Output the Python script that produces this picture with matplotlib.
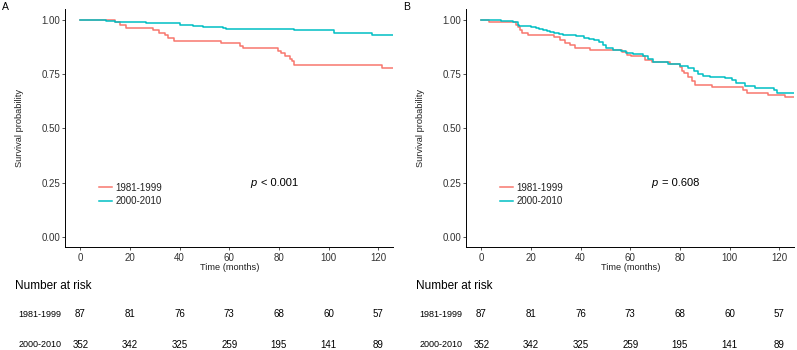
import matplotlib
matplotlib.use("Agg")
import matplotlib.pyplot as plt
from matplotlib.transforms import blended_transform_factory
from matplotlib.ticker import FormatStrFormatter

plt.rcParams['font.family'] = ['Liberation Sans', 'DejaVu Sans']

RED = '#F8766D'
TEAL = '#00BFC4'
groups = ['1981-1999', '2000-2010']

# Panel A: Kaplan-Meier steps (months, survival)
a_red_t = [0, 13.8, 15.8, 18.3, 29.3, 31.5, 34.0, 35.3, 37.6, 56.5, 64.3, 65.6,
           79.8, 80.7, 82.4, 84.4, 85.4, 86.1, 121.6, 126]
a_red_s = [1.0, 0.992, 0.98, 0.966, 0.955, 0.943, 0.931, 0.918, 0.906, 0.895, 0.883, 0.871,
           0.858, 0.847, 0.835, 0.823, 0.81, 0.792, 0.78, 0.78]
a_teal_t = [0, 10.5, 13.8, 26.6, 40.0, 45.4, 49.4, 57.5, 58.8, 86.2, 102.0, 117.4, 126]
a_teal_s = [1.0, 0.998, 0.994, 0.986, 0.98, 0.975, 0.97, 0.964, 0.96, 0.955, 0.941, 0.931, 0.931]

# Panel B
b_red_t = [0, 3.0, 14.0, 14.7, 15.6, 16.4, 18.7, 29.4, 31.7, 33.9, 35.9, 37.8, 43.9,
           56.6, 58.6, 60.5, 66.0, 68.7, 76.0, 80.1, 80.8, 81.8, 83.4, 85.0, 86.1,
           93.1, 105.6, 107.2, 115.7, 122.4, 126]
b_red_s = [1.0, 0.991, 0.978, 0.967, 0.956, 0.943, 0.932, 0.921, 0.909, 0.896, 0.886, 0.873, 0.863,
           0.855, 0.841, 0.836, 0.818, 0.806, 0.798, 0.783, 0.767, 0.755, 0.737, 0.721, 0.702,
           0.69, 0.678, 0.665, 0.655, 0.644, 0.644]
b_teal_t = [0, 8.0, 12.7, 14.7, 15.3, 20.0, 22.0, 23.1, 24.7, 26.4, 27.7, 29.4, 31.4, 33.0,
            38.2, 41.5, 43.5, 45.5, 47.6, 49.2, 50.3, 53.0, 56.3, 58.3, 61.0, 65.3, 67.3,
            69.3, 75.4, 80.1, 83.4, 85.5, 87.5, 89.5, 92.2, 98.2, 100.9, 102.5, 106.3,
            110.3, 118.1, 119.0, 126]
b_teal_s = [1.0, 0.997, 0.991, 0.98, 0.972, 0.969, 0.966, 0.961, 0.957, 0.952, 0.946, 0.941, 0.937, 0.931,
            0.926, 0.92, 0.914, 0.908, 0.899, 0.888, 0.87, 0.865, 0.857, 0.849, 0.845, 0.834, 0.823,
            0.809, 0.798, 0.787, 0.78, 0.764, 0.752, 0.744, 0.739, 0.733, 0.726, 0.71, 0.698,
            0.687, 0.678, 0.665, 0.665]

p_texts = ['< 0.001', '= 0.608']
panel_labels = ['A', 'B']

risk_times = [0, 20, 40, 60, 80, 100, 120]
risk_early = [87, 81, 76, 73, 68, 60, 57]
risk_late = [352, 342, 325, 259, 195, 141, 89]

fig = plt.figure(figsize=(7.97, 3.5), dpi=100)

panels = [
    (0.0821, (a_red_t, a_red_s), (a_teal_t, a_teal_s)),
    (0.5852, (b_red_t, b_red_s), (b_teal_t, b_teal_s)),
]

for i, (left, red, teal) in enumerate(panels):
    ax = fig.add_axes([left, 0.2929, 0.4111, 0.68])
    ax.step(red[0], red[1], where='post', color=RED, lw=1.1, label=groups[0])
    ax.step(teal[0], teal[1], where='post', color=TEAL, lw=1.1, label=groups[1])
    ax.set_xlim(-6, 126)
    ax.set_ylim(-0.05, 1.05)
    ax.set_xticks(risk_times)
    ax.set_yticks([0, 0.25, 0.5, 0.75, 1.0])
    ax.yaxis.set_major_formatter(FormatStrFormatter('%.2f'))
    for s in ['top', 'right']:
        ax.spines[s].set_visible(False)
    for s in ['left', 'bottom']:
        ax.spines[s].set_linewidth(0.7)
    ax.tick_params(length=2.3, width=0.6, pad=1.5, labelsize=7, colors='#333333')
    ax.set_ylabel('Survival probability', fontsize=6.7, color='#222222')
    ax.yaxis.set_label_coords(-0.126, 0.5)
    ax.set_xlabel('Time (months)', fontsize=6.7, color='#222222')
    ax.xaxis.set_label_coords(0.5, -0.066)

    leg = ax.legend(loc='upper left', bbox_to_anchor=(0.103, 0.272), frameon=False,
                    fontsize=7, borderaxespad=0, borderpad=0, handlelength=1.35,
                    handletextpad=0.35, labelspacing=0.38)
    for t in leg.get_texts():
        t.set_color('#222222')

    ax.text(68.3, 0.247, 'p', style='italic', fontsize=8, va='center', ha='left')
    ax.text(72.9, 0.247, p_texts[i], fontsize=8, va='center', ha='left')

    # panel letter
    fig.text(left - 0.079, 0.995, panel_labels[i], fontsize=7.5, va='top', ha='left')

    # risk table
    tr = blended_transform_factory(ax.transData, fig.transFigure)
    fig.text(left - 0.0633, 0.183, 'Number at risk', fontsize=8.5, va='center', ha='left')
    fig.text(left - 0.0591, 0.102, groups[0], fontsize=6.5, va='center', ha='left')
    fig.text(left - 0.0591, 0.0143, groups[1], fontsize=6.5, va='center', ha='left')
    for t, n1, n2 in zip(risk_times, risk_early, risk_late):
        ax.text(t, 0.102, str(n1), transform=tr, fontsize=7, va='center', ha='center')
        ax.text(t, 0.0143, str(n2), transform=tr, fontsize=7, va='center', ha='center')

fig.savefig('out.png', dpi=100)
